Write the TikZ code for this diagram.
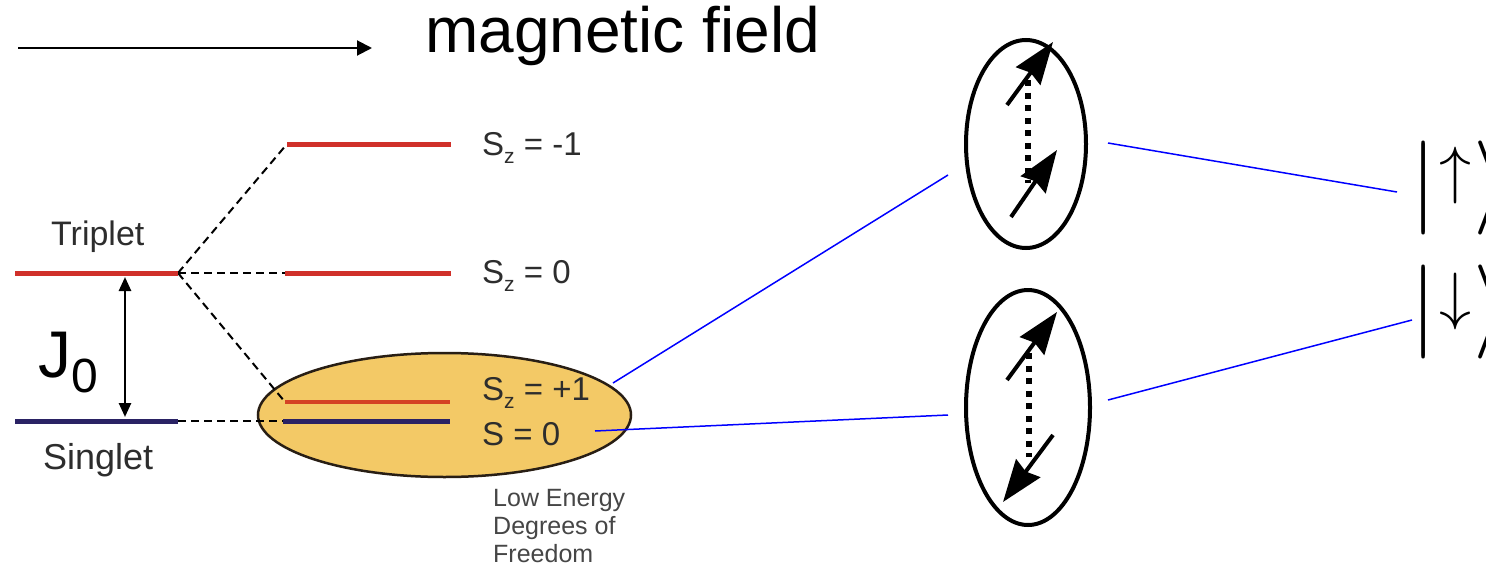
\documentclass[tikz,border=0pt]{standalone}
\usepackage{graphicx}
\usepackage{fontspec}
\setmainfont{Liberation Sans}
\usetikzlibrary{arrows.meta,shapes.geometric}
\definecolor{lvred}{RGB}{208,48,42}
\definecolor{lvredb}{RGB}{212,66,36}
\definecolor{lvnavy}{RGB}{42,34,100}
\definecolor{lowfill}{RGB}{243,201,102}
\definecolor{lowedge}{RGB}{40,30,20}
\definecolor{txtgray}{RGB}{45,45,45}
\definecolor{smallgray}{RGB}{70,70,70}
\begin{document}
\begin{tikzpicture}[x=1pt,y=-1pt,
  level/.style={line width=5pt},
  conn/.style={line width=2pt, dash pattern=on 8pt off 5pt},
  bluelink/.style={blue, line width=1.5pt},
  spin/.style={line width=4pt,-{Stealth[length=42pt,width=30pt,inset=4pt]}},
  pairline/.style={line width=6pt, dash pattern=on 6pt off 6.5pt},
  sz/.style={anchor=base west, inner sep=0, font=\fontsize{33}{33}\selectfont, text=txtgray},
  lbl/.style={anchor=base west, inner sep=0, text=txtgray},
  spinbox/.style={ellipse, draw, line width=4pt, inner sep=0},
  ket/.style={anchor=base west, inner sep=0}]
\clip (0,0) rectangle (1486,570);
\fill[white] (0,0) rectangle (1486,570);

% magnetic field arrow
\coordinate (fa) at (18,48);
\coordinate (fb) at (372,48);
\draw[line width=2pt,-{Triangle[length=15pt,width=15pt]}] (fa) -- (fb);
\node[anchor=base west, inner sep=0, font=\fontsize{64}{64}\selectfont] (field) at (425,52) {magnetic field};

% low energy ellipse
\node[ellipse, fill=lowfill, draw=lowedge, line width=2.5pt, inner sep=0,
      minimum width=373pt, minimum height=124pt] (low) at (444.5,415) {};

% coordinates for levels
\coordinate (t0) at (15,273);  \coordinate (tE) at (178,273);
\coordinate (s0) at (15,421);  \coordinate (sE) at (178,421);
\coordinate (m1a) at (287,144); \coordinate (m1b) at (451,144);
\coordinate (z0a) at (285,273); \coordinate (z0b) at (451,273);
\coordinate (p1a) at (285,402); \coordinate (p1b) at (450,402);
\coordinate (q0a) at (283,421); \coordinate (q0b) at (450,421);

% dashed connections
\draw[conn] (tE) -- (m1a);
\draw[conn] (tE) -- (z0a);
\draw[conn] (tE) -- (p1a);
\draw[conn] (sE) -- (q0a);

% levels
\draw[level, lvred] (t0) -- (tE);
\draw[level, lvnavy] (s0) -- (sE);
\draw[level, lvred] (m1a) -- (m1b);
\draw[level, lvred] (z0a) -- (z0b);
\draw[line width=4pt, lvredb] (p1a) -- (p1b);
\draw[level, lvnavy] (q0a) -- (q0b);

% labels
\node[lbl, font=\fontsize{34}{34}\selectfont] (trip) at (51,245) {Triplet};
\node[lbl, font=\fontsize{36}{36}\selectfont] (sing) at (43,469) {Singlet};
\coordinate (ja) at (125,277);
\coordinate (jb) at (125,417);
\draw[line width=2.5pt, {Triangle[length=14pt,width=12pt]}-{Triangle[length=14pt,width=12pt]}] (ja) -- (jb);
\node[anchor=base west, inner sep=0, font=\fontsize{66}{66}\selectfont] (J) at (38,377) {J\raisebox{-15pt}{\fontsize{48}{48}\selectfont 0}};

\node[sz] (lm1) at (482,155) {S\raisebox{-8pt}{\fontsize{21}{21}\selectfont z} = -1};
\node[sz] (lz0) at (482,283) {S\raisebox{-8pt}{\fontsize{21}{21}\selectfont z} = 0};
\node[sz] (lp1) at (482,400) {S\raisebox{-8pt}{\fontsize{21}{21}\selectfont z} = +1};
\node[sz] (ls0) at (482,445) {S = 0};

\node[anchor=north west, inner sep=0, align=left, text=smallgray,
      font=\fontsize{25}{28}\selectfont] (lowtxt) at (493,489) {Low Energy\\Degrees of\\Freedom};

% spin pictures
\node[spinbox, minimum width=120pt, minimum height=208pt] (spinup) at (1026,144) {};
\node[spinbox, minimum width=124pt, minimum height=235pt] (spindn) at (1028,407.5) {};

\coordinate (ua1) at (1007,105); \coordinate (ua2) at (1053,42);
\coordinate (ub1) at (1011,217); \coordinate (ub2) at (1057,150);
\coordinate (ud1) at (1028,80);  \coordinate (ud2) at (1028,183);
\draw[pairline] (ud1) -- (ud2);
\draw[spin] (ua1) -- (ua2);
\draw[spin] (ub1) -- (ub2);

\coordinate (da1) at (1007,380); \coordinate (da2) at (1057,312);
\coordinate (db1) at (1053,435); \coordinate (db2) at (1003,502);
\coordinate (dd1) at (1029,353); \coordinate (dd2) at (1029,457);
\draw[pairline] (dd1) -- (dd2);
\draw[spin] (da1) -- (da2);
\draw[spin] (db1) -- (db2);

% kets
\node[ket] (ketup) at (1410,211.5) {\scalebox{9.4}{$|$}\hspace{3pt}\raisebox{20pt}{\scalebox{6.4}{$\uparrow$}}\hspace{2pt}\scalebox{9.4}{$\rangle$}};
\node[ket] (ketdn) at (1410,335.5) {\scalebox{9.4}{$|$}\hspace{3pt}\raisebox{18pt}{\scalebox{6.4}{$\downarrow$}}\hspace{2pt}\scalebox{9.4}{$\rangle$}};

% blue links
\coordinate (p1r) at (613,383);
\coordinate (s0r) at (595,431);
\coordinate (upL) at (948,175);
\coordinate (dnL) at (948,415);
\coordinate (upR) at (1108,143);
\coordinate (dnR) at (1108,400);
\coordinate (kuL) at (1397,192);
\coordinate (kdL) at (1412,320);
\draw[bluelink] (p1r) -- (upL);
\draw[bluelink] (s0r) -- (dnL);
\draw[bluelink] (upR) -- (kuL);
\draw[bluelink] (dnR) -- (kdL);
\end{tikzpicture}
\end{document}
